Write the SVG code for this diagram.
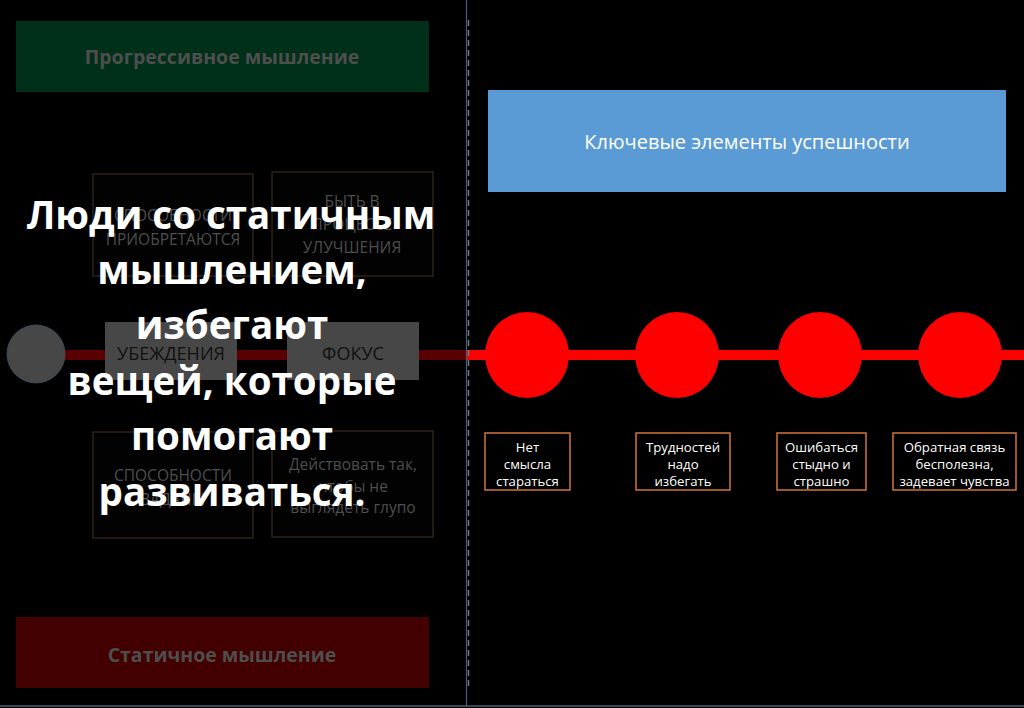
<svg xmlns="http://www.w3.org/2000/svg" width="1024" height="708" viewBox="0 0 1024 708">
<style>
.dim{font-family:"Open Sans","Liberation Sans",sans-serif;fill:#4e4e4e;text-anchor:middle}
.hdr{font-weight:bold;font-size:19.5px}
.sm{font-size:15.5px}
.lbl{font-family:"Open Sans","Liberation Sans",sans-serif;fill:#ffffff;font-size:13.2px;text-anchor:middle}
.big{font-family:"Open Sans","Liberation Sans",sans-serif;fill:#ffffff;font-size:38.5px;font-weight:bold;text-anchor:middle}
.obox{fill:#000;stroke:#d0743a;stroke-width:1.5}
.dbox{fill:#020202;stroke:#3a2a1e;stroke-width:1.2}
.gbox{fill:#474747}
.gl{font-family:"Open Sans","Liberation Sans",sans-serif;font-size:18px;fill:#111;text-anchor:middle}
.rc{fill:#ff0000}
</style>
<rect width="1024" height="708" fill="#000"/>
<g id="connectors">
<line x1="64" y1="355" x2="466" y2="355" stroke="#5a0000" stroke-width="10"/>
<line x1="466" y1="355" x2="1024" y2="355" stroke="#ff0000" stroke-width="10"/>
<line x1="466.5" y1="0" x2="466.5" y2="706" stroke="#3d5f86" stroke-width="1.2"/>
<line x1="468.5" y1="20" x2="468.5" y2="690" stroke="#777" stroke-width="1.5" stroke-dasharray="6 4"/>
<line x1="0" y1="706" x2="1024" y2="706" stroke="#6a8fb5" stroke-width="1.2"/>
</g>
<g id="progressive">
<rect x="16" y="21" width="413" height="71" fill="#00301a"/>
<text class="dim hdr" x="222" y="64">Прогрессивное мышление</text>
</g>
<g id="static">
<rect x="16" y="617" width="413" height="71" fill="#420000"/>
<text class="dim hdr" x="222" y="662">Статичное мышление</text>
</g>
<g id="box-tl">
<rect class="dbox" x="93" y="174" width="160" height="102"/>
<text class="dim sm" x="173" y="221">СПОСОБНОСТИ</text>
<text class="dim sm" x="173" y="245">ПРИОБРЕТАЮТСЯ</text>
</g>
<g id="box-tr">
<rect class="dbox" x="272" y="172" width="161" height="104"/>
<text class="dim sm" x="352" y="207">БЫТЬ В</text>
<text class="dim sm" x="352" y="230">ПРОЦЕССЕ</text>
<text class="dim sm" x="352" y="253">УЛУЧШЕНИЯ</text>
</g>
<g id="box-bl">
<rect class="dbox" x="93" y="432" width="160" height="106"/>
<text class="dim sm" x="173" y="481">СПОСОБНОСТИ</text>
<text class="dim sm" x="173" y="505">ЗАДАНЫ</text>
</g>
<g id="box-br">
<rect class="dbox" x="272" y="431" width="161" height="106"/>
<text class="dim sm" x="353" y="470">Действовать так,</text>
<text class="dim sm" x="353" y="492">чтобы не</text>
<text class="dim sm" x="353" y="513">выглядеть глупо</text>
</g>
<g id="start">
<circle cx="36" cy="354" r="29" fill="#474747" stroke="#3a4a5a" stroke-width="1"/>
</g>
<g id="beliefs">
<rect class="gbox" x="105" y="322" width="132" height="58"/>
<text class="gl" x="171" y="360">УБЕЖДЕНИЯ</text>
</g>
<g id="focus">
<rect class="gbox" x="287" y="322" width="132" height="58"/>
<text class="gl" x="353" y="360">ФОКУС</text>
</g>
<g id="overlay-text">
<text class="big" x="231" y="229">Люди со статичным</text>
<text class="big" x="232" y="284">мышлением,</text>
<text class="big" x="232" y="339">избегают</text>
<text class="big" x="232" y="395">вещей, которые</text>
<text class="big" x="232" y="450">помогают</text>
<text class="big" x="232" y="506">развиваться.</text>
</g>
<g id="key-elements">
<rect x="488" y="90" width="518" height="102" fill="#5b9bd5"/>
<text x="747" y="149" font-family="Open Sans, Liberation Sans, sans-serif" font-size="20" fill="#fff" text-anchor="middle">Ключевые элементы успешности</text>
</g>
<g id="c1"><ellipse class="rc" cx="527" cy="355" rx="42" ry="43"/></g>
<g id="c2"><ellipse class="rc" cx="677" cy="355" rx="42" ry="43"/></g>
<g id="c3"><ellipse class="rc" cx="820" cy="355" rx="42" ry="43"/></g>
<g id="c4"><ellipse class="rc" cx="960" cy="355" rx="42" ry="43"/></g>
<g id="l1">
<rect class="obox" x="485" y="433" width="85" height="57"/>
<text class="lbl" x="527.5" y="452">Нет</text>
<text class="lbl" x="527.5" y="469">смысла</text>
<text class="lbl" x="527.5" y="486">стараться</text>
</g>
<g id="l2">
<rect class="obox" x="636" y="433" width="94" height="57"/>
<text class="lbl" x="683" y="452">Трудностей</text>
<text class="lbl" x="683" y="469">надо</text>
<text class="lbl" x="683" y="486">избегать</text>
</g>
<g id="l3">
<rect class="obox" x="777" y="433" width="89" height="57"/>
<text class="lbl" x="821.5" y="452">Ошибаться</text>
<text class="lbl" x="821.5" y="469">стыдно и</text>
<text class="lbl" x="821.5" y="486">страшно</text>
</g>
<g id="l4">
<rect class="obox" x="893" y="433" width="123" height="57"/>
<text class="lbl" x="954.5" y="452">Обратная связь</text>
<text class="lbl" x="954.5" y="469">бесполезна,</text>
<text class="lbl" x="954.5" y="486">задевает чувства</text>
</g>
</svg>
